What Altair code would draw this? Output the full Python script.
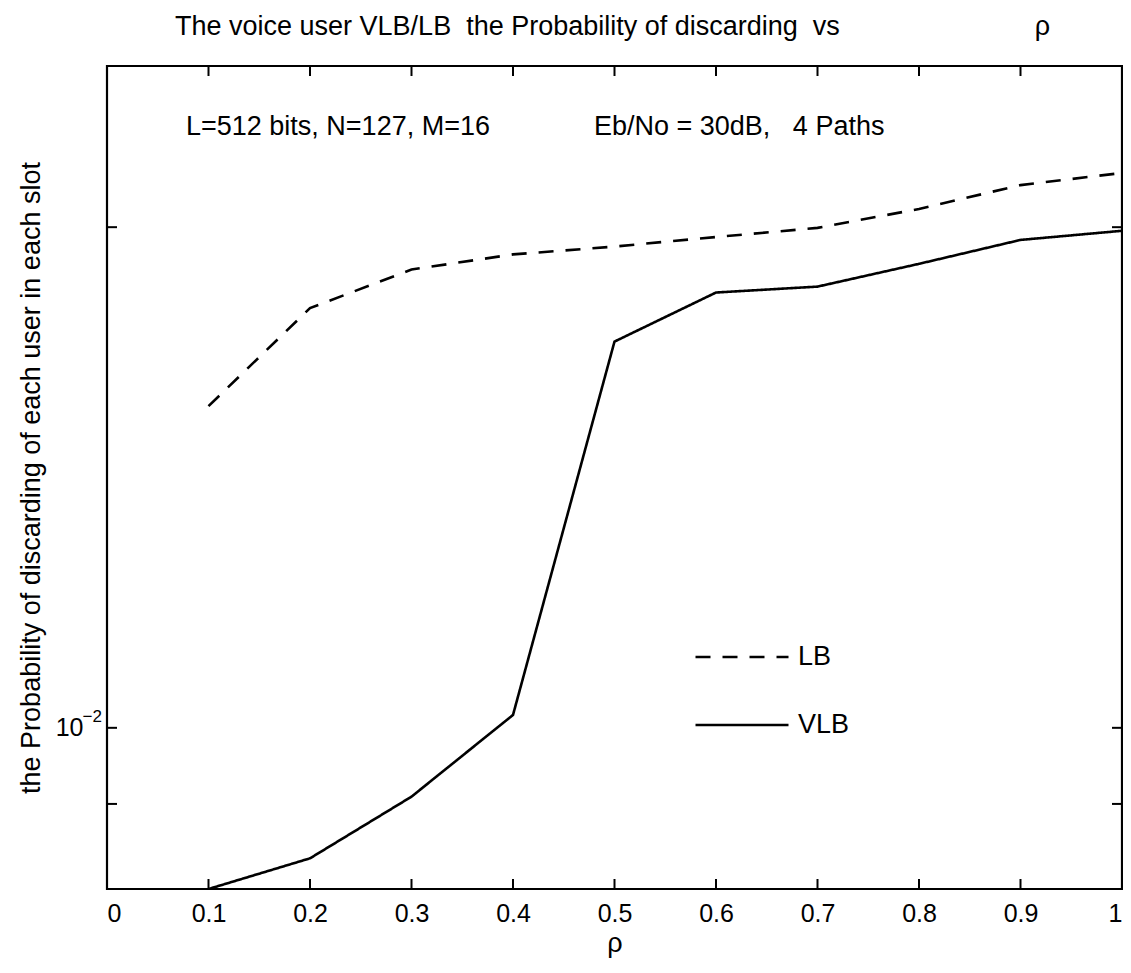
import altair as alt
import pandas as pd

# ---- data ----
rho = [0.1, 0.2, 0.3, 0.4, 0.5, 0.6, 0.7, 0.8, 0.9, 1.0]
lb = [0.01561, 0.01788, 0.01886, 0.01926, 0.01947, 0.01973, 0.01998, 0.02051, 0.02120, 0.02156]
vlb = [0.00800, 0.008347, 0.009091, 0.01018, 0.01707, 0.01827, 0.01842, 0.01901, 0.01965, 0.01990]
series_names = ["LB", "VLB"]
x_ticks = [0, 0.1, 0.2, 0.3, 0.4, 0.5, 0.6, 0.7, 0.8, 0.9, 1]
y_ticks = [0.008, 0.009, 0.01, 0.02]
y_labelled = [0.01]
y_label_base = "10"
y_label_exp = "\u22122"
x_domain = [0, 1]
y_domain = [0.008, 0.025]

title_text = ("The voice user VLB/LB\u00a0 the Probability of discarding\u00a0 vs"
              + "\u00a0" * 26 + "ρ")
note_left = "L=512 bits, N=127, M=16"
note_right = "Eb/No = 30dB,\u00a0\u00a0 4 Paths"
x_title = "ρ"
y_title = "the Probability of discarding of each user in each slot"

W, H = 1015, 823
FONT = "Liberation Sans"
TXT = 27
TICKFONT = 25
TICK = 10

df = pd.DataFrame({
    "rho": rho + rho,
    "p": lb + vlb,
    "series": [series_names[0]] * len(rho) + [series_names[1]] * len(rho),
})
xt = pd.DataFrame({"v": x_ticks})
yt = pd.DataFrame({"v": y_ticks})
ylab = pd.DataFrame({"v": y_labelled, "t": [y_label_exp]})

xs = alt.Scale(domain=x_domain, nice=False, zero=False)
ys = alt.Scale(type="log", domain=y_domain, nice=False)

lines = alt.Chart(df).mark_line(strokeWidth=2.6, color="black", clip=True).encode(
    x=alt.X("rho:Q", scale=xs,
            axis=alt.Axis(values=x_ticks, format="~g", title=x_title, grid=False,
                          ticks=False, tickSize=0, domain=False, labelPadding=12,
                          labelFontSize=TICKFONT, labelFont=FONT, labelColor="black",
                          titleFontSize=TXT, titleFont=FONT, titleFontWeight="normal",
                          titleColor="black", titlePadding=4)),
    y=alt.Y("p:Q", scale=ys,
            axis=alt.Axis(values=y_labelled, labelExpr="'" + y_label_base + "'", title=y_title,
                          grid=False, ticks=False, tickSize=0, domain=False, labelPadding=24,
                          labelFontSize=TICKFONT, labelFont=FONT, labelColor="black",
                          labelBaseline="middle",
                          titleFontSize=TXT, titleFont=FONT, titleFontWeight="normal",
                          titleColor="black", titlePadding=10)),
    strokeDash=alt.StrokeDash("series:N",
                              scale=alt.Scale(domain=series_names, range=[[15, 12], [1, 0]]),
                              legend=alt.Legend(title=None, orient="none", legendX=587, legendY=543,
                                                symbolType="stroke", symbolSize=8649,
                                                symbolStrokeWidth=2.6, symbolStrokeColor="black",
                                                labelFontSize=TXT, labelFont=FONT, labelColor="black",
                                                labelOffset=8, rowPadding=7)),
)

exp_layer = alt.Chart(ylab).mark_text(align="right", baseline="middle", fontSize=17,
                                      font=FONT, color="black", dy=-11).encode(
    y=alt.Y("v:Q", scale=ys), x=alt.value(-5), text="t:N")

bottom_ticks = alt.Chart(xt).mark_rule(color="black", strokeWidth=2).encode(
    x=alt.X("v:Q", scale=xs), y=alt.value(H), y2=alt.value(H - TICK))
top_ticks = alt.Chart(xt).mark_rule(color="black", strokeWidth=2).encode(
    x=alt.X("v:Q", scale=xs), y=alt.value(0), y2=alt.value(TICK))
left_ticks = alt.Chart(yt).mark_rule(color="black", strokeWidth=2).encode(
    y=alt.Y("v:Q", scale=ys), x=alt.value(0), x2=alt.value(TICK))
right_ticks = alt.Chart(yt).mark_rule(color="black", strokeWidth=2).encode(
    y=alt.Y("v:Q", scale=ys), x=alt.value(W), x2=alt.value(W - TICK))

texts = pd.DataFrame({"t": [title_text, note_left, note_right],
                      "x": [68, 79, 487], "y": [-39, 61, 61]})
text_layer = alt.Chart(texts).mark_text(align="left", baseline="middle", fontSize=TXT,
                                        font=FONT, color="black").encode(
    text="t:N", x=alt.X("x:Q", scale=None), y=alt.Y("y:Q", scale=None))

chart = alt.layer(lines, exp_layer, bottom_ticks, top_ticks, left_ticks, right_ticks,
                  text_layer).properties(
    width=W, height=H,
    autosize=alt.AutoSizeParams(type="none"),
    padding={"left": 99, "top": 58, "right": 1, "bottom": 76},
    background="white",
).configure_view(stroke="black", strokeWidth=2.2)

chart.save("out.html", embed_options={"renderer": "svg", "actions": False})
